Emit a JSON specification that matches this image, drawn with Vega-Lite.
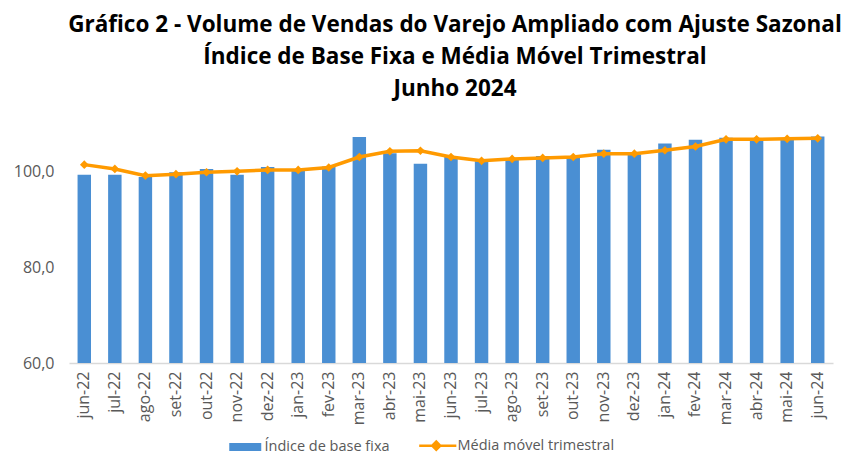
{
  "$schema": "https://vega.github.io/schema/vega-lite/v6.json",
  "autosize": "none",
  "width": 764,
  "height": 239,
  "padding": {"left": 69, "top": 124, "right": 11, "bottom": 92},
  "background": "white",
  "title": {
    "text": ["Gráfico 2 - Volume de Vendas do Varejo Ampliado com Ajuste Sazonal", "Índice de Base Fixa e Média Móvel Trimestral", "Junho 2024"],
    "font": "Open Sans",
    "fontSize": 22.5,
    "fontWeight": "bold",
    "color": "#000000",
    "lineHeight": 32,
    "anchor": "middle",
    "frame": "group",
    "dx": 4,
    "offset": 24
  },
  "config": {
    "view": {"stroke": null},
    "axis": {"labelFont": "Open Sans", "labelColor": "#595959", "labelFontSize": 16, "grid": false, "ticks": false, "title": null}
  },
  "data": {
    "values": [
      {"mes": "jun-22", "indice": 99.4, "media": 101.5},
      {"mes": "jul-22", "indice": 99.4, "media": 100.6},
      {"mes": "ago-22", "indice": 98.9, "media": 99.2},
      {"mes": "set-22", "indice": 99.9, "media": 99.5},
      {"mes": "out-22", "indice": 100.6, "media": 99.9},
      {"mes": "nov-22", "indice": 99.4, "media": 100.1},
      {"mes": "dez-22", "indice": 101.0, "media": 100.4},
      {"mes": "jan-23", "indice": 100.6, "media": 100.4},
      {"mes": "fev-23", "indice": 101.1, "media": 100.9},
      {"mes": "mar-23", "indice": 107.3, "media": 103.1},
      {"mes": "abr-23", "indice": 103.9, "media": 104.3},
      {"mes": "mai-23", "indice": 101.7, "media": 104.4},
      {"mes": "jun-23", "indice": 103.2, "media": 103.1},
      {"mes": "jul-23", "indice": 102.2, "media": 102.3},
      {"mes": "ago-23", "indice": 102.7, "media": 102.7},
      {"mes": "set-23", "indice": 103.3, "media": 102.9},
      {"mes": "out-23", "indice": 103.2, "media": 103.1},
      {"mes": "nov-23", "indice": 104.6, "media": 103.8},
      {"mes": "dez-23", "indice": 103.6, "media": 103.8},
      {"mes": "jan-24", "indice": 105.9, "media": 104.5},
      {"mes": "fev-24", "indice": 106.7, "media": 105.3},
      {"mes": "mar-24", "indice": 107.1, "media": 106.8},
      {"mes": "abr-24", "indice": 106.9, "media": 106.8},
      {"mes": "mai-24", "indice": 106.9, "media": 106.9},
      {"mes": "jun-24", "indice": 107.4, "media": 107.0}
    ]
  },
  "encoding": {
    "x": {
      "field": "mes",
      "type": "nominal",
      "sort": null,
      "scale": {"paddingInner": 0.56, "paddingOuter": 0.28},
      "axis": {"labelAngle": -90, "labelPadding": 8, "domainColor": "#d9d9d9", "domainWidth": 1.5}
    }
  },
  "layer": [
    {
      "mark": {"type": "bar"},
      "encoding": {
        "y": {
          "field": "indice",
          "type": "quantitative",
          "scale": {"domain": [60, 110], "zero": false, "nice": false},
          "axis": {"values": [60, 80, 100], "domain": false, "labelPadding": 15, "labelExpr": "replace(format(datum.value, '.1f'), '.', ',')"}
        },
        "y2": {"datum": 60},
        "color": {
          "datum": "Índice de base fixa",
          "scale": {"domain": ["Índice de base fixa", "Média móvel trimestral"], "range": ["#4a8fd3", "#ff9a00"]},
          "legend": {
            "orient": "none",
            "legendX": 161,
            "legendY": 314,
            "direction": "horizontal",
            "title": null,
            "symbolSize": 1024,
            "labelFont": "Open Sans",
            "labelFontSize": 14.5,
            "labelColor": "#595959",
            "labelOffset": 20,
            "columnPadding": 24,
            "encode": {
              "symbols": {
                "update": {
                  "size": {"value": 1024},
                  "shape": {"signal": "datum.value === 'Índice de base fixa' ? 'M-0.5,-0.25H1.5V0.25H-0.5Z' : 'M-0.69,0H1.63M0.125,0L0.375,-0.25L0.625,0L0.375,0.25Z'"},
                  "strokeWidth": {"signal": "datum.value === 'Índice de base fixa' ? 0 : 2.5"},
                  "fill": {"signal": "datum.value === 'Índice de base fixa' ? '#4a8fd3' : '#ff9a00'"},
                  "stroke": {"value": "#ff9a00"},
                  "opacity": {"value": 1},
                  "fillOpacity": {"value": 1}
                }
              }
            }
          }
        }
      }
    },
    {
      "mark": {"type": "line", "strokeWidth": 3.5, "point": {"shape": "diamond", "size": 75, "filled": true}},
      "encoding": {
        "y": {"field": "media", "type": "quantitative"},
        "color": {"datum": "Média móvel trimestral"}
      }
    }
  ]
}
